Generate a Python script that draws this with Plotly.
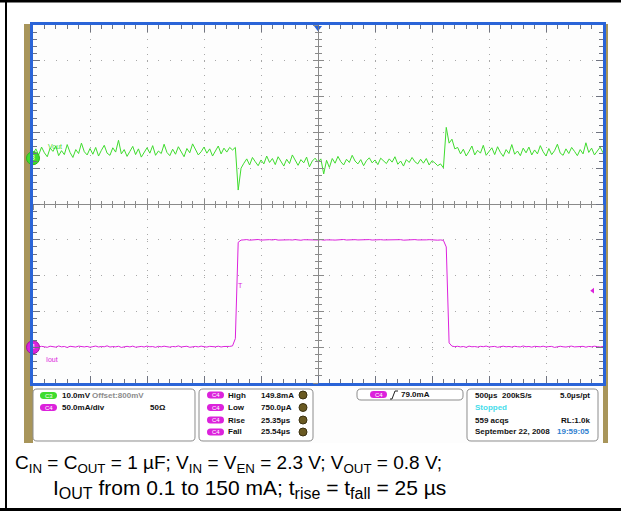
import plotly.graph_objects as go

# scope capture: 500 us/div, 10 divisions, one point every 25 us (trigger at 0)
t_us = [-2500 + 25 * i for i in range(201)]

# C3 Vout in mV (10 mV/div, 800 mV reference)
vout_mv = [
    801.2, 802.6, 800.9, 803.1, 801.5, 800.4, 802.8, 801.9, 803.4, 800.7,
    802.1, 801.0, 803.8, 801.6, 800.2, 802.4, 801.3, 804.2, 801.8, 800.9,
    802.7, 801.1, 803.0, 800.6, 802.2, 803.6, 801.4, 800.8, 802.9, 801.7,
    805.0, 801.2, 802.4, 800.5, 801.9, 803.3, 801.0, 802.6, 800.3, 801.8,
    802.9, 801.4, 803.5, 800.8, 802.0, 801.3, 803.9, 801.6, 800.7, 802.5,
    801.1, 803.2, 801.9, 800.4, 802.7, 801.5, 804.0, 802.2, 800.9, 801.8,
    803.1, 801.4, 802.6, 800.6, 802.0, 803.4, 801.2, 802.8, 801.7, 803.0,
    802.3,
    803.0, 791.1, 797.2,
    798.6, 799.8, 798.1, 800.2, 799.0, 797.9, 799.5, 798.4, 800.6, 798.8,
    799.9, 798.2, 800.4, 799.1, 797.8, 799.7, 798.5, 800.9, 799.3, 798.0,
    799.6, 798.7, 800.3, 797.6, 799.2, 800.0, 798.9, 799.8, 795.6, 799.4,
    797.4, 799.9, 798.6, 800.5, 799.0, 798.1, 799.7, 798.8, 800.8, 799.2,
    798.4, 799.6, 797.9, 799.3, 800.1, 798.7, 799.5, 798.2, 800.0, 799.1,
    798.5, 799.8, 798.9, 800.4, 798.3, 799.2, 797.8, 799.6, 798.8, 800.2,
    799.0, 798.4, 799.7, 798.6, 799.9, 798.1, 799.3, 798.7, 797.9, 798.4,
    797.3, 808.6, 804.2, 805.3, 802.6,
    803.0, 801.2, 802.5, 800.6, 801.9, 803.4, 800.9, 802.2, 801.4, 803.6,
    800.8, 801.7, 802.9, 801.0, 803.2, 801.6, 800.5, 802.4, 801.3, 803.8,
    801.1, 802.0, 800.7, 802.8, 801.5, 803.1, 800.9, 802.3, 801.2, 803.5,
    801.8, 800.6, 802.7, 801.0, 802.1, 803.9, 801.4, 800.8, 802.6, 801.3,
    803.0, 801.9, 800.7, 802.4, 801.2, 804.3, 801.6, 802.8, 800.9, 802.0,
    803.1, 801.5,
]

# C4 Iout in mA (50 mA/div)
iout_ma = [
    0.9, 1.6, 0.3, 1.2, 0.6, -0.2, 1.4, 0.8, 0.1, 1.7,
    0.5, 1.0, -0.4, 1.3, 0.7, 0.2, 1.5, 0.9, 0.4, 1.1,
    -0.1, 0.8, 1.6, 0.3, 1.0, 0.6, 1.9, 0.2, 0.9, 0.5,
    1.3, -0.3, 0.7, 1.2, 0.4, 1.5, 0.0, 0.8, 1.1, 0.3,
    1.6, 0.6, 0.9, -0.2, 1.2, 0.5, 1.4, 0.7, 0.1, 1.0,
    0.6, 1.8, 0.3, 0.9, 1.3, -0.1, 0.8, 1.1, 0.4, 1.5,
    0.7, 0.2, 1.2, 0.9, 0.5, 1.4, 0.3, 1.0, 0.6, 1.1,
    1.8, 12.0, 146.5, 149.6,
    149.9, 150.3, 149.5, 150.1, 149.7, 150.4, 149.6, 150.0, 149.4, 150.2,
    149.8, 150.5, 149.6, 149.9, 150.2, 149.5, 150.0, 149.7, 150.3, 149.8,
    149.4, 150.1, 149.9, 150.4, 149.6, 150.0, 149.7, 150.2, 149.5, 149.9,
    150.3, 149.8, 149.6, 150.1, 149.9, 150.4, 149.7, 150.0, 149.5, 150.2,
    149.8, 150.1, 149.6, 149.9, 150.3, 149.7, 150.0, 149.5, 150.2, 149.8,
    149.9, 150.4, 149.6, 150.0, 149.8, 150.2, 149.5, 149.9, 150.1, 149.7,
    150.3, 149.8, 149.6, 150.0, 149.9, 150.2, 149.7, 150.1, 149.5, 149.8,
    149.3,
    140.0, 6.0, 1.5,
    0.8, 1.3, 0.4, 1.0, -0.2, 1.5, 0.6, 0.9, 0.2, 1.2,
    0.7, 1.6, 0.3, 0.8, 1.1, -0.1, 0.9, 1.4, 0.5, 1.0,
    0.2, 1.3, 0.7, 0.4, 1.7, 0.6, 1.0, 0.1, 1.2, 0.8,
    0.5, 1.4, 0.3, 0.9, 1.1, -0.3, 0.8, 1.3, 0.6, 0.2,
    1.0, 1.5, 0.4, 0.9, 0.7, 1.2, 0.0, 1.1, 0.6, 1.4,
    0.8, 0.3, 1.0,
]

trig_level_ma = 79.0
vout_ref_mv = 800.0

GRN = "#3fdc2e"
MAG = "#dc22dc"
BLUE = "#2a64d8"
TAN = "#a8955a"
TICK = "#6f7380"
CROSS = "#8a8a8a"
GRID = "#a8a8a8"

W, H = 621, 511
PX0, PX1, PY0, PY1 = 33, 603, 25, 383


def X(px):
    return (px - PX0) / (PX1 - PX0)


def Y(py):
    return (PY1 - py) / (PY1 - PY0)


def rbox(x0, y0, x1, y1, r):
    p = lambda a, b: f"{X(a):.5f},{Y(b):.5f}"
    return ("M " + p(x0 + r, y0) + " L " + p(x1 - r, y0) + " Q " + p(x1, y0) + " " + p(x1, y0 + r)
            + " L " + p(x1, y1 - r) + " Q " + p(x1, y1) + " " + p(x1 - r, y1)
            + " L " + p(x0 + r, y1) + " Q " + p(x0, y1) + " " + p(x0, y1 - r)
            + " L " + p(x0, y0 + r) + " Q " + p(x0, y0) + " " + p(x0 + r, y0) + " Z")


fig = go.Figure()

fig.add_trace(go.Scatter(x=t_us, y=iout_ma, mode="lines", line=dict(color=MAG, width=1),
                         hoverinfo="skip", showlegend=False))
fig.add_trace(go.Scatter(x=t_us, y=vout_mv, mode="lines", line=dict(color=GRN, width=1),
                         yaxis="y2", hoverinfo="skip", showlegend=False))

# channel ground / offset markers
fig.add_trace(go.Scatter(x=[t_us[0]], y=[vout_ref_mv], yaxis="y2", mode="markers+text", text=["3"],
                         textfont=dict(size=7, color="white"), cliponaxis=False,
                         marker=dict(size=13, color=GRN, line=dict(color="#2fb020", width=1)),
                         hoverinfo="skip", showlegend=False))
fig.add_trace(go.Scatter(x=[t_us[0]], y=[0], mode="markers+text", text=["4"],
                         textfont=dict(size=7, color="white"), cliponaxis=False,
                         marker=dict(size=13, color=MAG, line=dict(color="#a010a0", width=1)),
                         hoverinfo="skip", showlegend=False))
# trigger position and level
fig.add_trace(go.Scatter(x=[0], y=[446], mode="markers", cliponaxis=False,
                         marker=dict(symbol="triangle-down", size=7, color=BLUE),
                         hoverinfo="skip", showlegend=False))
fig.add_trace(go.Scatter(x=[2410], y=[trig_level_ma], mode="markers", cliponaxis=False,
                         marker=dict(symbol="triangle-left", size=5, color=MAG),
                         hoverinfo="skip", showlegend=False))

# empty traces so the centre cross-hair axes are drawn
for xa, ya in [("x2", "y"), ("x3", "y"), ("x", "y3"), ("x", "y4")]:
    fig.add_trace(go.Scatter(x=[], y=[], xaxis=xa, yaxis=ya, showlegend=False))

xr = [-2500, 2500]
yr = [-50, 450]

fig.update_layout(
    width=W, height=H,
    margin=dict(l=PX0, r=W - PX1, t=PY0, b=H - PY1),
    paper_bgcolor="white", plot_bgcolor="rgba(0,0,0,0)",
    showlegend=False,
    xaxis=dict(range=xr, dtick=500, tick0=0, showticklabels=False, zeroline=False,
               showgrid=True, gridcolor=GRID, gridwidth=1, griddash="1px,6.2px",
               showline=True, linecolor=BLUE, linewidth=3, mirror="ticks",
               ticks="inside", ticklen=7, tickcolor=TICK, tickwidth=1,
               minor=dict(dtick=100, ticks="inside", ticklen=4, tickcolor=TICK, showgrid=False)),
    yaxis=dict(range=yr, dtick=50, tick0=0, showticklabels=False, zeroline=False,
               showgrid=True, gridcolor=GRID, gridwidth=1, griddash="1px,10.4px",
               showline=True, linecolor=BLUE, linewidth=3, mirror="ticks",
               ticks="inside", ticklen=7, tickcolor=TICK, tickwidth=1,
               minor=dict(dtick=10, ticks="inside", ticklen=4, tickcolor=TICK, showgrid=False)),
    yaxis2=dict(range=[vout_ref_mv - 62.8, vout_ref_mv + 37.2], overlaying="y", visible=False),
)

cross_x = dict(range=xr, overlaying="x", anchor="free", position=0.5, showticklabels=False,
               showgrid=False, zeroline=False, showline=True, linecolor=CROSS, linewidth=1,
               dtick=500, tick0=0, ticklen=5, tickcolor=CROSS)
cross_y = dict(range=yr, overlaying="y", anchor="free", position=0.5, showticklabels=False,
               showgrid=False, zeroline=False, showline=True, linecolor=CROSS, linewidth=1,
               dtick=50, tick0=0, ticklen=5, tickcolor=CROSS)
fig.update_layout(
    xaxis2=dict(cross_x, ticks="inside", minor=dict(dtick=100, ticks="inside", ticklen=3, tickcolor=CROSS)),
    xaxis3=dict(cross_x, ticks="outside", minor=dict(dtick=100, ticks="outside", ticklen=3, tickcolor=CROSS)),
    yaxis3=dict(cross_y, ticks="inside", minor=dict(dtick=10, ticks="inside", ticklen=3, tickcolor=CROSS)),
    yaxis4=dict(cross_y, ticks="outside", minor=dict(dtick=10, ticks="outside", ticklen=3, tickcolor=CROSS)),
)

shapes = [
    # scope bezel (side strips), screen and status strip
    dict(type="rect", xref="paper", yref="paper", x0=X(24), x1=X(33), y0=Y(443), y1=Y(24),
         fillcolor=TAN, line=dict(width=0), layer="below"),
    dict(type="rect", xref="paper", yref="paper", x0=X(603), x1=X(608), y0=Y(443), y1=Y(24),
         fillcolor=TAN, line=dict(width=0), layer="below"),
    dict(type="rect", xref="paper", yref="paper", x0=X(PX0), x1=X(PX1), y0=Y(443), y1=Y(PY0),
         fillcolor="#fdfdfd", line=dict(width=0), layer="below"),
    # page frame
    dict(type="line", xref="paper", yref="paper", x0=X(6), x1=X(6), y0=Y(0), y1=Y(511),
         line=dict(color="black", width=2)),
    dict(type="line", xref="paper", yref="paper", x0=X(0), x1=X(621), y0=Y(1), y1=Y(1),
         line=dict(color="black", width=3)),
    dict(type="line", xref="paper", yref="paper", x0=X(0), x1=X(621), y0=Y(509.5), y1=Y(509.5),
         line=dict(color="black", width=3)),
]

for b in [(33, 389, 195, 441), (199, 389, 313, 441), (357, 389, 463, 400), (467, 389, 598, 441)]:
    shapes.append(dict(type="path", xref="paper", yref="paper", path=rbox(*b, 4),
                       fillcolor="white", line=dict(color="#8c8c8c", width=1)))

pills = [(40, 395.5, GRN, "C3"), (40, 407.5, MAG, "C4"),
         (207, 395, MAG, "C4"), (207, 407.5, MAG, "C4"), (207, 420, MAG, "C4"), (207, 432, MAG, "C4"),
         (370, 394.5, MAG, "C4")]
annotations = []
for px, py, col, lab in pills:
    shapes.append(dict(type="path", xref="paper", yref="paper", path=rbox(px, py - 3.5, px + 17, py + 3.5, 3.5),
                       fillcolor=col, line=dict(width=0)))
    annotations.append(dict(text=lab, x=X(px + 8.5), y=Y(py), xref="paper", yref="paper", showarrow=False,
                            font=dict(size=6, color="white", family="Liberation Sans"),
                            xanchor="center", yanchor="middle"))

for py in [395, 407.5, 420, 432]:
    shapes.append(dict(type="circle", xref="paper", yref="paper", x0=X(299), x1=X(307), y0=Y(py + 4), y1=Y(py - 4),
                       fillcolor="#6a5a22", line=dict(color="#3c3210", width=1)))

# trigger slope glyph
shapes.append(dict(type="path", xref="paper", yref="paper",
                   path=f"M {X(390)},{Y(399)} L {X(392)},{Y(399)} L {X(395)},{Y(391)} L {X(398)},{Y(391)}",
                   line=dict(color="#222", width=1)))

SFONT = "Liberation Sans Narrow, Liberation Sans, Arial"


def txt(s, px, py, color="#111", size=8, anchor="left", bold=True):
    annotations.append(dict(text=f"<b>{s}</b>" if bold else s, x=X(px), y=Y(py), xref="paper", yref="paper",
                            showarrow=False, xanchor=anchor, yanchor="middle",
                            font=dict(size=size, color=color, family=SFONT)))


txt("10.0mV", 60, 395.5)
txt("Offset:800mV", 90, 395.5, color="#8c8c8c")
txt("50.0mA/div", 60, 407.5)
txt("50Ω", 148, 407.5)
for py, name, val in [(395, "High", "149.8mA"), (407.5, "Low", "750.0µA"),
                      (420, "Rise", "25.35µs"), (432, "Fall", "25.54µs")]:
    txt(name, 226, py)
    txt(val, 259, py)
txt(f"{trig_level_ma:.1f}mA", 399, 394.5)
txt("500µs", 473, 395)
txt("200kS/s", 500, 395)
txt("5.0µs/pt", 592, 395, anchor="right")
txt("Stopped", 473, 407.5, color="#46dcea")
txt("559 acqs", 473, 420)
txt("RL:1.0k", 592, 420, anchor="right")
txt("September 22, 2008", 473, 432)
txt("19:59:05", 592, 432, color="#2f7fd0", anchor="right")

# on-screen trace labels
txt("Vout", 46, 146, color=GRN, size=7, bold=False)
txt("Iout", 44, 359, color=MAG, size=7, bold=False)
txt("T", 236, 285, color=MAG, size=7, bold=False)

# caption
CAP = dict(xref="paper", yref="paper", showarrow=False, xanchor="left", yanchor="middle")
annotations.append(dict(CAP, text="C<sub>IN</sub> = C<sub>OUT</sub> = 1 µF; V<sub>IN</sub> = V<sub>EN</sub> = 2.3 V; "
                                  "V<sub>OUT</sub> = 0.8 V;", x=X(13), y=Y(464),
                        font=dict(size=19, color="black", family="Liberation Sans, Arial")))
SUB = "<sub><span style='font-size:16px'>{}</span></sub>"
annotations.append(dict(CAP, text="I" + SUB.format("OUT") + " from 0.1 to 150 mA; t" + SUB.format("rise")
                                  + " = t" + SUB.format("fall") + " = 25 µs",
                        x=X(51), y=Y(489),
                        font=dict(size=21, color="black", family="Liberation Sans, Arial")))

fig.update_layout(shapes=shapes, annotations=annotations)

fig.write_html("out.html", config={"displayModeBar": False},
               post_script="document.body.style.margin='0';")
